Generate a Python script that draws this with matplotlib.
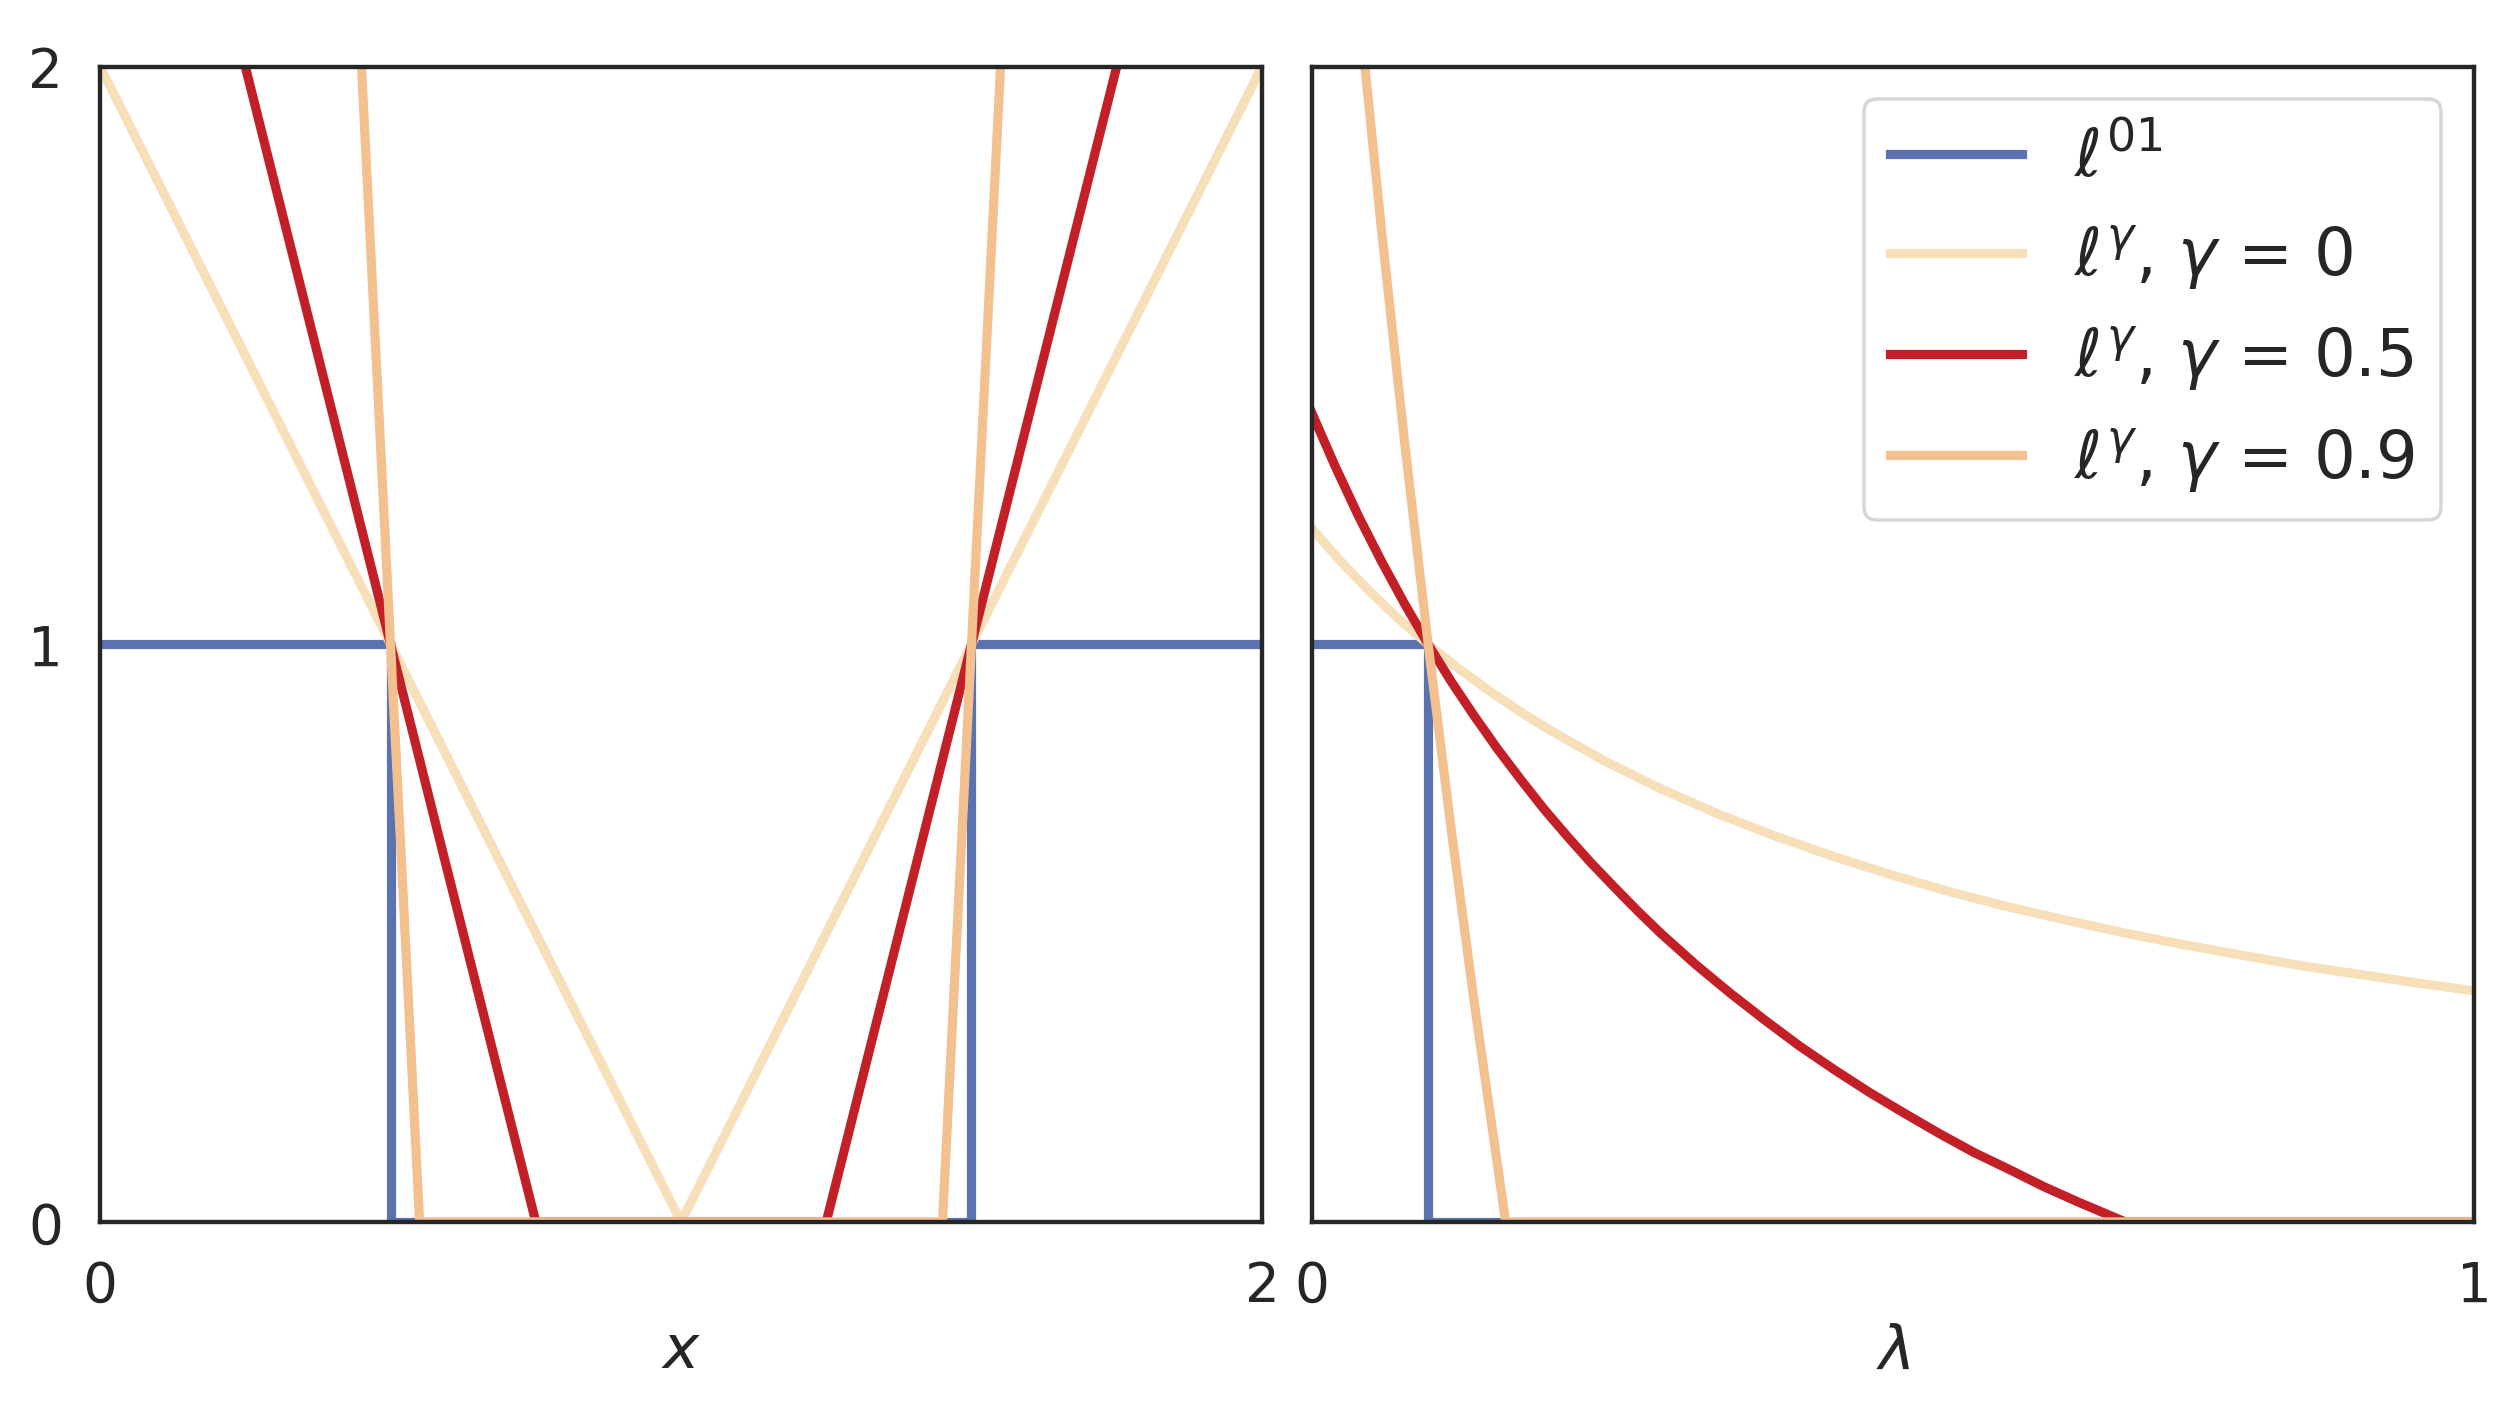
import matplotlib
matplotlib.use("Agg")
import matplotlib.pyplot as plt

# left panel: losses as function of x (piecewise linear breakpoints)
x_01 = [0, 0.5, 0.5, 1.5, 1.5, 2]
y_01 = [1, 1, 0, 0, 1, 1]
x_g0 = [0, 1, 2]
y_g0 = [2, 0, 2]
x_g05 = [0, 0.75, 1.25, 2]
y_g05 = [3, 0, 0, 3]
x_g09 = [0, 0.55, 1.45, 2]
y_g09 = [11, 0, 0, 11]

# right panel: losses as function of lambda
lam_01 = [0, 0.1, 0.1, 1]
val_01 = [1, 1, 0, 0]
lam_g0 = [0, 0.025, 0.05, 0.075, 0.1, 0.125, 0.15, 0.175, 0.2, 0.25, 0.3, 0.35, 0.4,
          0.45, 0.5, 0.55, 0.6, 0.65, 0.7, 0.75, 0.8, 0.85, 0.9, 0.95, 1.0]
val_g0 = [1.200, 1.143, 1.091, 1.043, 1.000, 0.960, 0.923, 0.889, 0.857, 0.800, 0.750,
          0.706, 0.667, 0.632, 0.600, 0.571, 0.545, 0.522, 0.500, 0.480, 0.462, 0.444,
          0.429, 0.414, 0.400]
lam_g05 = [0, 0.02, 0.04, 0.06, 0.08, 0.1, 0.12, 0.14, 0.16, 0.18, 0.2, 0.22, 0.24,
           0.26, 0.28, 0.3, 0.33, 0.36, 0.39, 0.42, 0.45, 0.48, 0.51, 0.54, 0.57,
           0.6, 0.63, 0.66, 0.7, 1.0]
val_g05 = [1.400, 1.308, 1.222, 1.143, 1.069, 1.000, 0.935, 0.875, 0.818, 0.765, 0.714,
           0.667, 0.622, 0.580, 0.539, 0.500, 0.446, 0.396, 0.349, 0.304, 0.263, 0.224,
           0.188, 0.153, 0.120, 0.091, 0.061, 0.034, 0.0, 0.0]
lam_g09 = [0, 0.02, 0.04, 0.06, 0.08, 0.1, 0.12, 0.14, 0.1667, 1.0]
val_g09 = [3.000, 2.538, 2.111, 1.714, 1.345, 1.000, 0.677, 0.375, 0.0, 0.0]

labels = [r'$\ell^{01}$', r'$\ell^{\gamma}$, $\gamma$ = 0',
          r'$\ell^{\gamma}$, $\gamma$ = 0.5', r'$\ell^{\gamma}$, $\gamma$ = 0.9']
colors = ['#5a73ae', '#f6dfb9', '#c22026', '#f3c08f']

dark = '#262626'
plt.rcParams['axes.edgecolor'] = dark
plt.rcParams['axes.linewidth'] = 1.0
plt.rcParams['xtick.color'] = dark
plt.rcParams['ytick.color'] = dark
plt.rcParams['text.color'] = dark
plt.rcParams['axes.labelcolor'] = dark

fig, (ax1, ax2) = plt.subplots(1, 2, figsize=(8, 4.5), dpi=315, sharey=True)
lw = 2.1

ax1.plot(x_01, y_01, color=colors[0], lw=lw, label=labels[0])
ax1.plot(x_g0, y_g0, color=colors[1], lw=lw, label=labels[1])
ax1.plot(x_g05, y_g05, color=colors[2], lw=lw, label=labels[2])
ax1.plot(x_g09, y_g09, color=colors[3], lw=lw, label=labels[3])

ax2.plot(lam_01, val_01, color=colors[0], lw=lw, label=labels[0])
ax2.plot(lam_g0, val_g0, color=colors[1], lw=lw, label=labels[1])
ax2.plot(lam_g05, val_g05, color=colors[2], lw=lw, label=labels[2])
ax2.plot(lam_g09, val_g09, color=colors[3], lw=lw, label=labels[3])

ax1.set_xlim(0, 2)
ax1.set_ylim(0, 2)
ax1.set_xticks([0, 2])
ax1.set_yticks([0, 1, 2])
ax2.set_xlim(0, 1)
ax2.set_xticks([0, 1])

for ax in (ax1, ax2):
    ax.tick_params(length=0, pad=8.5, labelsize=12.5)
ax2.tick_params(labelleft=False)

ax1.set_xlabel(r'$x$', fontsize=14, labelpad=2)
ax2.set_xlabel(r'$\lambda$', fontsize=14, labelpad=2)

leg = ax2.legend(loc='upper right', fontsize=15, handlelength=2.0,
                 fancybox=True, edgecolor='#cccccc')
leg.get_frame().set_linewidth(0.8)

plt.subplots_adjust(left=0.0397, right=0.9817, bottom=0.1376, top=0.9527, wspace=0.043)
fig.savefig('out.png', dpi=315)
